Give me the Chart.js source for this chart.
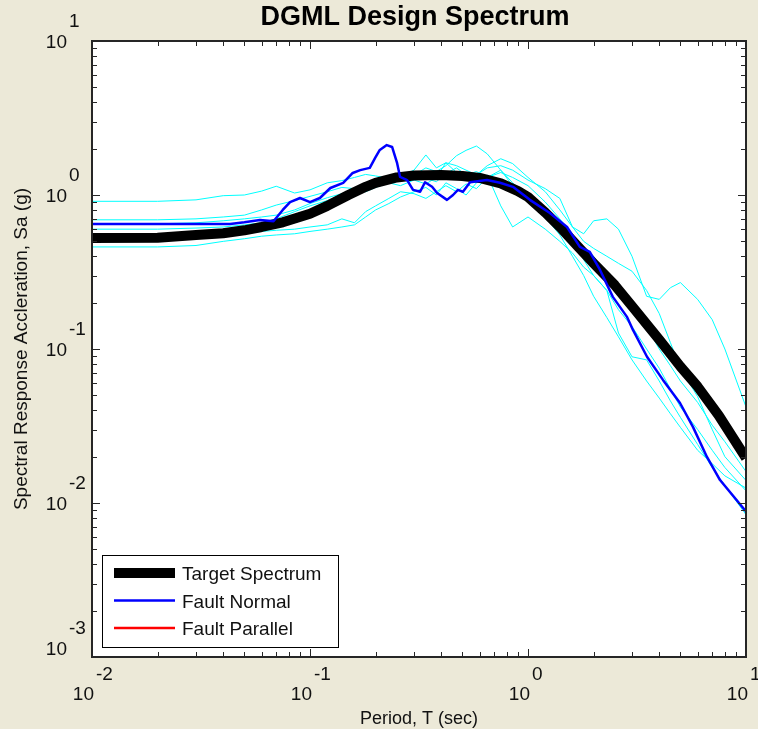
<!DOCTYPE html>
<html>
<head>
<meta charset="utf-8">
<title>DGML Design Spectrum</title>
<script src="https://cdn.jsdelivr.net/npm/chart.js@4.4.1/dist/chart.umd.min.js"></script>
<style>
    html, body { margin: 0; padding: 0; background: #ece9d8; }
    #wrap { width: 758px; height: 729px; }
</style>
</head>
<body>
<div id="wrap"><canvas id="graficoEspectro" width="758" height="729"></canvas></div>
<script>
// Target spectrum (period in s, Sa in g)
const periodosAlvo = [0.01, 0.02, 0.03, 0.04, 0.05, 0.06, 0.075, 0.1, 0.12, 0.15, 0.18, 0.2, 0.25, 0.3, 0.4, 0.5,
    0.6, 0.75, 0.9, 1.0, 1.2, 1.4, 1.7, 2.0, 2.5, 3.0, 4.0, 5.0, 6.0, 7.5, 10];
const saAlvo = [0.526, 0.527, 0.55, 0.565, 0.59, 0.62, 0.665, 0.755, 0.85, 1.0, 1.13, 1.2, 1.3, 1.34, 1.35, 1.33,
    1.29, 1.19, 1.06, 0.97, 0.77, 0.62, 0.46, 0.36, 0.26, 0.19, 0.115, 0.077, 0.057, 0.037, 0.0196];

// Fault normal average
const periodosNormal = [0.01, 0.043, 0.05, 0.059, 0.068, 0.075, 0.081, 0.09, 0.1, 0.111, 0.124, 0.142, 0.157, 0.17,
    0.188, 0.199, 0.209, 0.225, 0.238, 0.251, 0.259, 0.279, 0.297, 0.32, 0.337, 0.363, 0.383, 0.425, 0.453, 0.477,
    0.503, 0.542, 0.648, 0.744, 0.853, 1.02, 1.26, 1.51, 1.73, 1.92, 2.14, 2.45, 2.85, 3.03, 3.52, 4.16, 4.98, 5.71,
    6.62, 7.6, 10];
const saNormal = [0.648, 0.648, 0.665, 0.688, 0.675, 0.80, 0.90, 0.956, 0.90, 0.956, 1.11, 1.20, 1.39, 1.45,
    1.50, 1.74, 1.96, 2.11, 2.05, 1.61, 1.31, 1.25, 1.08, 1.05, 1.21, 1.13, 1.03, 0.93, 1.0, 1.08,
    1.05, 1.21, 1.25, 1.20, 1.13, 0.93, 0.764, 0.62, 0.46, 0.427, 0.326, 0.218, 0.161, 0.133, 0.0887, 0.063, 0.0446, 0.0312,
    0.0199, 0.0141, 0.0088];

// Fault parallel (no records plotted)
const periodosParalelo = [];
const saParalelo = [];

// Individual records, all on the same period grid
const periodosRegistros = [0.01, 0.02, 0.03, 0.04, 0.05, 0.06, 0.07, 0.085, 0.1, 0.12,
    0.14, 0.16, 0.18, 0.2, 0.23, 0.26, 0.3, 0.34, 0.38, 0.42,
    0.47, 0.52, 0.58, 0.65, 0.75, 0.85, 1.0, 1.2, 1.4, 1.6,
    1.8, 2.0, 2.3, 2.6, 3.0, 3.5, 4.0, 4.5, 5.0, 6.0,
    7.0, 8.0, 10];
const saRegistro1 = [0.91, 0.91, 0.93, 0.99, 1.0, 1.06, 1.14, 1.03, 1.08, 1.20,
    1.24, 1.30, 1.36, 1.33, 1.28, 1.40, 1.35, 1.50, 1.42, 1.55,
    1.80, 1.95, 2.08, 1.85, 1.45, 1.20, 0.98, 0.80, 0.62, 0.50,
    0.45, 0.40, 0.30, 0.24, 0.19, 0.14, 0.10, 0.078, 0.062, 0.045,
    0.032, 0.025, 0.016];
const saRegistro2 = [0.69, 0.69, 0.70, 0.72, 0.74, 0.80, 0.86, 0.92, 0.98, 1.05,
    1.12, 1.10, 1.18, 1.25, 1.20, 1.32, 1.45, 1.82, 1.50, 1.62,
    1.55, 1.45, 1.35, 1.55, 1.72, 1.60, 1.30, 1.05, 0.80, 0.62,
    0.56, 0.68, 0.70, 0.60, 0.40, 0.22, 0.21, 0.25, 0.27, 0.21,
    0.155, 0.10, 0.042];
const saRegistro3 = [0.60, 0.60, 0.61, 0.62, 0.64, 0.66, 0.70, 0.78, 0.85, 0.92,
    1.00, 1.08, 1.05, 1.12, 1.20, 1.15, 1.25, 1.18, 1.30, 1.62,
    1.40, 1.28, 1.35, 1.50, 1.55, 1.45, 1.25, 1.10, 0.95, 0.62,
    0.50, 0.45, 0.40, 0.36, 0.32, 0.24, 0.17, 0.11, 0.075, 0.049,
    0.030, 0.020, 0.014];
const saRegistro4 = [0.53, 0.53, 0.54, 0.55, 0.56, 0.58, 0.59, 0.60, 0.62, 0.64,
    0.70, 0.66, 0.78, 0.85, 0.95, 1.05, 1.02, 0.95, 1.05, 1.15,
    1.05, 1.18, 1.10, 1.30, 1.40, 1.30, 1.15, 0.90, 0.70, 0.55,
    0.38, 0.30, 0.24, 0.18, 0.14, 0.10, 0.075, 0.055, 0.042, 0.030,
    0.022, 0.017, 0.012];
const saRegistro5 = [0.46, 0.46, 0.47, 0.50, 0.52, 0.54, 0.55, 0.56, 0.58, 0.60,
    0.62, 0.64, 0.72, 0.80, 0.88, 0.97, 1.05, 1.12, 1.00, 1.20,
    1.10, 1.00, 1.20, 1.35, 0.85, 0.62, 0.72, 0.60, 0.50, 0.42,
    0.34, 0.30, 0.24, 0.127, 0.089, 0.085, 0.062, 0.046, 0.036, 0.024,
    0.017, 0.013, 0.0084];
const saRegistro6 = [0.65, 0.65, 0.66, 0.68, 0.70, 0.72, 0.74, 0.80, 0.88, 0.96,
    1.02, 1.10, 1.20, 1.15, 1.30, 1.25, 1.35, 1.28, 1.22, 1.38,
    1.50, 1.35, 1.42, 1.30, 1.45, 1.15, 0.95, 0.72, 0.55, 0.40,
    0.30, 0.22, 0.16, 0.12, 0.085, 0.062, 0.048, 0.038, 0.031, 0.022,
    0.018, 0.015, 0.0125];
const registros = [saRegistro1, saRegistro2, saRegistro3, saRegistro4, saRegistro5, saRegistro6];

// Axis decades and their exponent labels
const decadasX = [0.01, 0.1, 1, 10];
const expoentesX = ['-2', '-1', '0', '1'];
const decadasY = [0.001, 0.01, 0.1, 1, 10];
const expoentesY = ['-3', '-2', '-1', '0', '1'];
const subdivisoes = [1, 2, 3, 4, 5, 6, 7, 8, 9];

const FONTE = '"Liberation Sans", Arial, Helvetica, sans-serif';
const COR_TEXTO = '#111111';

function pontos(periodos, valores) {
    return periodos.map((t, i) => ({ x: t, y: valores[i] }));
}

// Figure background, axes frame, inner ticks, labels and legend box
const quadroPlugin = {
    id: 'quadro',
    beforeDraw(chart) {
        const { ctx, chartArea: area } = chart;
        ctx.save();
        ctx.fillStyle = '#ece9d8';
        ctx.fillRect(0, 0, chart.width, chart.height);
        ctx.fillStyle = '#ffffff';
        ctx.fillRect(area.left, area.top, area.right - area.left, area.bottom - area.top);
        ctx.restore();
    },
    afterDraw(chart) {
        const { ctx, chartArea: area, scales } = chart;
        const sx = scales.x;
        const sy = scales.y;
        ctx.save();

        // Tick marks on all four sides, pointing inwards
        ctx.strokeStyle = '#262626';
        ctx.lineWidth = 1;
        ctx.beginPath();
        decadasX.forEach(d => {
            subdivisoes.forEach(m => {
                const v = d * m;
                if (v > sx.max * 1.0001) return;
                const px = Math.round(sx.getPixelForValue(v)) + 0.5;
                const len = m === 1 ? 8 : 5;
                ctx.moveTo(px, area.bottom);
                ctx.lineTo(px, area.bottom - len);
                ctx.moveTo(px, area.top);
                ctx.lineTo(px, area.top + len);
            });
        });
        decadasY.forEach(d => {
            subdivisoes.forEach(m => {
                const v = d * m;
                if (v > sy.max * 1.0001) return;
                const py = Math.round(sy.getPixelForValue(v)) + 0.5;
                const len = m === 1 ? 8 : 5;
                ctx.moveTo(area.left, py);
                ctx.lineTo(area.left + len, py);
                ctx.moveTo(area.right, py);
                ctx.lineTo(area.right - len, py);
            });
        });
        ctx.stroke();

        // Frame
        ctx.lineWidth = 2;
        ctx.strokeRect(area.left, area.top, area.right - area.left, area.bottom - area.top);

        // Tick labels as 10 with a raised exponent
        ctx.fillStyle = COR_TEXTO;
        ctx.font = `19px ${FONTE}`;
        ctx.textBaseline = 'alphabetic';
        decadasX.forEach((d, i) => {
            const px = sx.getPixelForValue(d);
            ctx.textAlign = 'right';
            ctx.fillText('10', px + 2, area.bottom + 43);
            ctx.textAlign = 'left';
            ctx.fillText(expoentesX[i], px + 4, area.bottom + 23);
        });
        decadasY.forEach((d, i) => {
            const py = Math.min(sy.getPixelForValue(d), area.bottom - 9);
            ctx.textAlign = 'right';
            ctx.fillText('10', area.left - 25, py + 7);
            ctx.textAlign = 'left';
            ctx.fillText(expoentesY[i], area.left - 23, py - 14);
        });

        // Title and axis titles
        ctx.textAlign = 'center';
        ctx.font = `bold 27px ${FONTE}`;
        ctx.fillStyle = '#000000';
        ctx.fillText('DGML Design Spectrum', 415, 25);
        ctx.fillStyle = COR_TEXTO;
        ctx.font = `18px ${FONTE}`;
        ctx.fillText('Period, T (sec)', (area.left + area.right) / 2, 724);
        ctx.save();
        ctx.translate(22, (area.top + area.bottom) / 2);
        ctx.rotate(-Math.PI / 2);
        ctx.textBaseline = 'middle';
        ctx.font = `19px ${FONTE}`;
        ctx.fillText('Spectral Response Accleration, Sa (g)', 0, 0);
        ctx.restore();

        // Legend box in the lower-left corner of the axes
        const itens = chart.data.datasets.filter(ds => ds.label);
        const caixa = { x: 102, y: 555, w: 236, h: 92 };
        ctx.fillStyle = '#ffffff';
        ctx.fillRect(caixa.x, caixa.y, caixa.w, caixa.h);
        ctx.strokeStyle = '#000000';
        ctx.lineWidth = 1;
        ctx.strokeRect(caixa.x + 0.5, caixa.y + 0.5, caixa.w, caixa.h);
        itens.forEach((ds, i) => {
            const y = caixa.y + 18 + i * 27.5;
            ctx.strokeStyle = ds.borderColor;
            ctx.lineWidth = ds.legendWidth;
            ctx.lineCap = 'butt';
            ctx.beginPath();
            ctx.moveTo(caixa.x + 12, y);
            ctx.lineTo(caixa.x + 73, y);
            ctx.stroke();
            ctx.fillStyle = COR_TEXTO;
            ctx.font = `19px ${FONTE}`;
            ctx.textAlign = 'left';
            ctx.textBaseline = 'alphabetic';
            ctx.fillText(ds.label, caixa.x + 80, y + 7);
        });

        ctx.restore();
    }
};

const datasetsRegistros = registros.map(sa => ({
    data: pontos(periodosRegistros, sa),
    borderColor: '#00ffff',
    borderWidth: 1,
    order: 3
}));

const ctx = document.getElementById('graficoEspectro').getContext('2d');
const graficoEspectro = new Chart(ctx, {
    type: 'line',
    data: {
        datasets: [
            {
                label: 'Target Spectrum',
                data: pontos(periodosAlvo, saAlvo),
                borderColor: '#000000',
                borderWidth: 10,
                legendWidth: 10,
                order: 2
            },
            {
                label: 'Fault Normal',
                data: pontos(periodosNormal, saNormal),
                borderColor: '#0000ff',
                borderWidth: 2.5,
                legendWidth: 2.5,
                order: 1
            },
            {
                label: 'Fault Parallel',
                data: pontos(periodosParalelo, saParalelo),
                borderColor: '#ff0000',
                borderWidth: 2.5,
                legendWidth: 2.5,
                order: 0
            },
            ...datasetsRegistros
        ]
    },
    options: {
        responsive: false,
        animation: false,
        devicePixelRatio: 1,
        parsing: true,
        layout: {
            padding: { left: 92, right: 12, top: 41, bottom: 72 }
        },
        elements: {
            point: { radius: 0 },
            line: { tension: 0, borderJoinStyle: 'round', fill: false }
        },
        datasets: {
            line: { clip: 0 }
        },
        plugins: {
            legend: { display: false },
            title: { display: false },
            tooltip: { enabled: false }
        },
        scales: {
            x: {
                type: 'logarithmic',
                min: 0.01,
                max: 10,
                display: false
            },
            y: {
                type: 'logarithmic',
                min: 0.001,
                max: 10,
                display: false
            }
        }
    },
    plugins: [quadroPlugin]
});
</script>
</body>
</html>
